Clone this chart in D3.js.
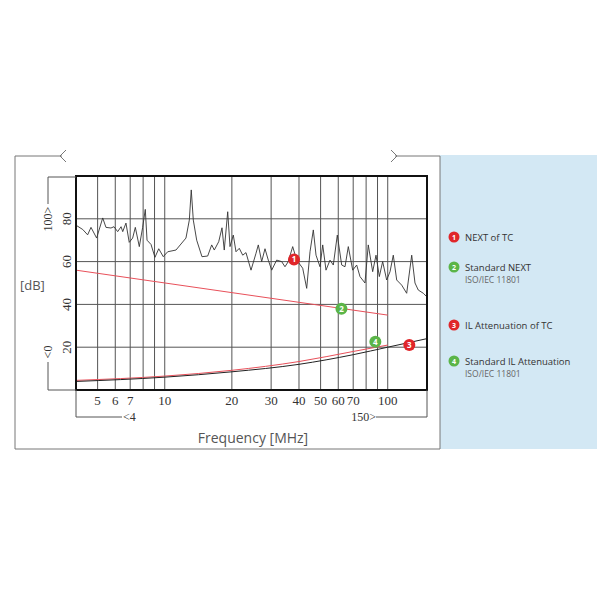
<!DOCTYPE html>
<html><head><meta charset="utf-8">
<script src="https://cdn.jsdelivr.net/npm/d3@7"></script>
<style>body{margin:0;background:#fff}</style>
</head><body>
<svg id="svg1" width="600" height="600"></svg>
<script>
// NEXT of TC (measured) : frequency MHz / dB
var nextFreq = [4.0,4.29,4.51,4.67,4.95,5.27,5.45,5.74,5.92,6.15,6.37,6.48,6.70,6.93,7.18,7.38,7.69,7.96,8.18,8.33,8.68,9.04,9.40,9.85,10.31,11.23,12.45,12.89,13.15,13.43,13.91,14.69,15.58,16.24,16.68,17.46,18.06,18.49,19.16,19.62,20.30,20.87,21.59,22.37,23.14,24.37,25.66,26.28,27.21,28.16,29.13,30.18,31.76,33.45,34.61,35.81,37.48,39.06,41.56,43.31,44.82,46.38,47.69,49.69,51.10,52.87,55.10,57.01,59.41,62.17,64.33,66.56,69.64,72.57,75.09,79.06,81.8,85.6,88.6,91.7,94.9,98.9,102.4,105.9,109.7,115.5,121.6,128.1,132.5,137.1,144.4,149.6];
var nextDb = [77,75,72.5,76,71,80.4,76,75.7,76.3,74,76.3,74,78,69,71,76,67,76,84.4,70,68,62,66,62.3,64.6,65.4,71,79.4,93.5,79.4,70,62.3,62.6,67.8,65.4,69.3,75.8,65.4,83.3,67,72.4,64.6,66.2,63,64.2,56,63.9,67.8,60,66,60.7,56,60.7,60,57.6,60,67,60.7,56.9,47.5,64.6,74.8,63,57.6,67.8,56,60.7,58.4,72.4,58.4,57.6,67,56,58.4,53,50,67.8,55.3,63,53,60,51.4,55.3,63,51.4,49,45.2,63,50,46.7,45.2,43.6];
var stdNextFreq = [4, 100];
var stdNextDb = [56, 35];
var ilFreq = [4, 10, 20, 40, 70, 100, 150];
var ilDb = [4, 6, 8.5, 12, 16.5, 20, 24];
var stdIlFreq = [4, 10, 20, 40, 70, 100];
var stdIlDb = [4.5, 6.5, 9.2, 13.3, 18, 21];
var markers = [
  {n:'1', f:38, db:61, c:'#e0262a'},
  {n:'2', f:62, db:38, c:'#5bb548'},
  {n:'3', f:125, db:21, c:'#e0262a'},
  {n:'4', f:88, db:22.5, c:'#5bb548'}
];
var legend = [
  {n:'1', c:'#e0262a', t:'NEXT of TC', s:''},
  {n:'2', c:'#5bb548', t:'Standard NEXT', s:'ISO/IEC 11801'},
  {n:'3', c:'#e0262a', t:'IL Attenuation of TC', s:''},
  {n:'4', c:'#5bb548', t:'Standard IL Attenuation', s:'ISO/IEC 11801'}
];
var gridFreq = [5,6,7,8,9,10,20,30,40,50,60,70,80,90,100];
var tickFreq = [5,6,7,10,20,30,40,50,60,70,100];
var yTicks = [20,40,60,80];

var svg = d3.select('svg');
var serif = '"Liberation Serif", "DejaVu Serif", serif';
var sans = '"Open Sans", "Noto Sans", sans-serif';

// blue side panel
svg.append('rect').attr('x',440).attr('y',155).attr('width',157).attr('height',294).attr('fill','#d3e8f4');

// outer frame
var frame = d3.path();
frame.moveTo(62,156); frame.lineTo(15,156); frame.lineTo(15,449); frame.lineTo(440,449); frame.lineTo(440,156); frame.lineTo(395,156);
svg.append('path').attr('d',frame.toString()).attr('fill','none').attr('stroke','#777').attr('stroke-width',1);
svg.append('path').attr('d','M66,150L60,156L66,162').attr('fill','none').attr('stroke','#777');
svg.append('path').attr('d','M391,150L397,156L391,162').attr('fill','none').attr('stroke','#777');

var x = d3.scaleLog().domain([4,150]).range([76,427]);
var y = d3.scaleLinear().domain([0,100]).range([390,176]);

// grid
svg.selectAll('line.vg').data(gridFreq).enter().append('line')
  .attr('x1',function(d){return x(d);}).attr('x2',function(d){return x(d);})
  .attr('y1',176).attr('y2',390).attr('stroke','#555').attr('stroke-width',1);
svg.selectAll('line.hg').data(yTicks).enter().append('line')
  .attr('x1',76).attr('x2',427)
  .attr('y1',function(d){return y(d);}).attr('y2',function(d){return y(d);})
  .attr('stroke','#555').attr('stroke-width',1);

var line = d3.line().x(function(d){return x(d[0]);}).y(function(d){return y(d[1]);});
var smooth = d3.line().curve(d3.curveMonotoneX).x(function(d){return x(d[0]);}).y(function(d){return y(d[1]);});

svg.append('path').datum(d3.zip(stdNextFreq,stdNextDb)).attr('d',line)
  .attr('fill','none').attr('stroke','#e8505a').attr('stroke-width',1);
svg.append('path').datum(d3.zip(stdIlFreq,stdIlDb)).attr('d',smooth)
  .attr('fill','none').attr('stroke','#e8505a').attr('stroke-width',1);
svg.append('path').datum(d3.zip(ilFreq,ilDb)).attr('d',smooth)
  .attr('fill','none').attr('stroke','#222').attr('stroke-width',1);
svg.append('path').datum(d3.zip(nextFreq,nextDb)).attr('d',line)
  .attr('fill','none').attr('stroke','#333').attr('stroke-width',0.9);

// plot border
svg.append('rect').attr('x',76).attr('y',176).attr('width',351).attr('height',214)
  .attr('fill','none').attr('stroke','#111').attr('stroke-width',2);

// markers
var m = svg.selectAll('g.mk').data(markers).enter().append('g')
  .attr('transform',function(d){return 'translate('+x(d.f)+','+y(d.db)+')';});
m.append('circle').attr('r',6).attr('fill',function(d){return d.c;});
m.append('text').text(function(d){return d.n;}).attr('text-anchor','middle').attr('dy',3)
  .attr('font-family',sans).attr('font-size',8).attr('font-weight','bold').attr('fill','#fff');

// x tick labels
svg.selectAll('text.xt').data(tickFreq).enter().append('text')
  .attr('x',function(d){return x(d);}).attr('y',405).attr('text-anchor','middle')
  .attr('font-family',serif).attr('font-size',13).attr('fill','#333').text(function(d){return d;});

// y tick labels (rotated)
svg.selectAll('text.yt').data(yTicks).enter().append('text')
  .attr('transform',function(d){return 'translate(71,'+y(d)+') rotate(-90)';})
  .attr('text-anchor','middle').attr('font-family',serif).attr('font-size',13).attr('fill','#333')
  .text(function(d){return d;});

// axis brackets
var br = '#555';
svg.append('path').attr('d','M76,177L48,177L48,204').attr('fill','none').attr('stroke',br);
svg.append('text').attr('transform','translate(52,219) rotate(-90)').attr('text-anchor','middle')
  .attr('font-family',serif).attr('font-size',12).attr('fill','#333').text('100>');
svg.append('path').attr('d','M76,390L48,390L48,362').attr('fill','none').attr('stroke',br);
svg.append('text').attr('transform','translate(52,352) rotate(-90)').attr('text-anchor','middle')
  .attr('font-family',serif).attr('font-size',12).attr('fill','#333').text('<0');
svg.append('path').attr('d','M76,390L76,417L122,417').attr('fill','none').attr('stroke',br);
svg.append('text').attr('x',123).attr('y',421).attr('font-family',serif).attr('font-size',12).attr('fill','#333').text('<4');
svg.append('path').attr('d','M427,390L427,417L376,417').attr('fill','none').attr('stroke',br);
svg.append('text').attr('x',376).attr('y',421).attr('text-anchor','end').attr('font-family',serif).attr('font-size',12).attr('fill','#333').text('150>');

svg.append('text').attr('x',20).attr('y',290).attr('font-family',sans).attr('font-size',13).attr('fill','#555').text('[dB]');
svg.append('text').attr('x',253).attr('y',443).attr('text-anchor','middle').attr('font-family',sans).attr('font-size',14).attr('fill','#555').text('Frequency [MHz]');

// legend
var ly = [237,267,325,361];
var lg = svg.selectAll('g.lg').data(legend).enter().append('g')
  .attr('transform',function(d,i){return 'translate(454,'+ly[i]+')';});
lg.append('circle').attr('r',5.5).attr('fill',function(d){return d.c;});
lg.append('text').text(function(d){return d.n;}).attr('text-anchor','middle').attr('dy',3)
  .attr('font-family',sans).attr('font-size',7).attr('font-weight','bold').attr('fill','#fff');
lg.append('text').attr('x',11).attr('dy',3.5).attr('font-family',sans).attr('font-size',9.5).attr('fill','#333')
  .text(function(d){return d.t;});
lg.append('text').attr('x',11).attr('dy',16).attr('font-family',sans).attr('font-size',8.5).attr('fill','#666')
  .text(function(d){return d.s;});
</script>
</body></html>
